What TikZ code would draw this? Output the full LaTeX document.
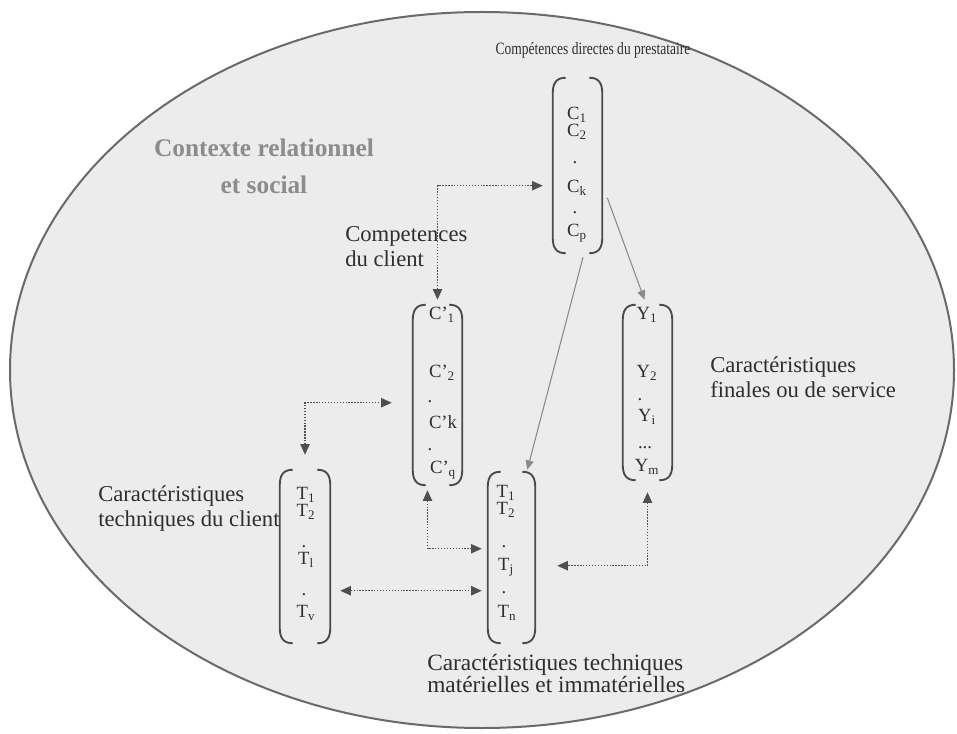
\documentclass[tikz,border=0pt]{standalone}
\usepackage{fontspec}
\usepackage{graphicx}
\setmainfont{Liberation Serif}
\usetikzlibrary{arrows.meta,calc,fit}
\definecolor{bgfill}{HTML}{ECECEC}
\definecolor{rim}{HTML}{6A6A6A}
\definecolor{txt}{HTML}{2E2E2E}
\definecolor{ctx}{HTML}{8C8C8C}
\definecolor{brkcol}{HTML}{4A4A4A}
\definecolor{conncol}{HTML}{4F4F4F}
\definecolor{linecol}{HTML}{8A8A8A}
\tikzset{
  lbl/.style={font=\fontsize{17}{18.75}\selectfont, text=txt, inner sep=0pt, align=left},
  ent/.style={font=\fontsize{14}{16}\selectfont, text=txt, inner sep=0pt},
  brk/.style={draw=brkcol, line width=1.4pt},
  mbox/.style={inner sep=0pt, draw=none},
  conn/.style={draw=conncol, line width=0.9pt, dash pattern=on 1pt off 1.2pt},
  tipboth/.style={{Triangle[length=8pt,width=7pt]}-{Triangle[length=8pt,width=7pt]}},
  tipend/.style={-{Triangle[length=7pt,width=6pt]}},
  thin/.style={draw=linecol, line width=0.8pt},
}
\newcommand\mybrackets[1]{%
  \draw[brk] ($(#1.north west)+(13,0)$) .. controls ($(#1.north west)+(3,0)$) and ($(#1.north west)+(0,6)$) .. ($(#1.north west)+(0,16)$)
    -- ($(#1.south west)+(0,-16)$) .. controls ($(#1.south west)+(0,-6)$) and ($(#1.south west)+(3,0)$) .. ($(#1.south west)+(13,0)$);
  \draw[brk] ($(#1.north east)+(-13,0)$) .. controls ($(#1.north east)+(-3,0)$) and ($(#1.north east)+(0,6)$) .. ($(#1.north east)+(0,16)$)
    -- ($(#1.south east)+(0,-16)$) .. controls ($(#1.south east)+(0,-6)$) and ($(#1.south east)+(-3,0)$) .. ($(#1.south east)+(-13,0)$);
}
\begin{document}
\begin{tikzpicture}[x=0.75pt,y=-0.75pt]
\useasboundingbox (0,0) rectangle (957,734);
\fill[white] (0,0) rectangle (957,734);
\draw[draw=rim, line width=1.5pt, fill=bgfill] (482,370) ellipse [x radius=472, y radius=358];

% matrices
\node[mbox, fit={(553,78) (602,253)}] (C) {};
\node[mbox, fit={(413,305) (462,485)}] (Cp) {};
\node[mbox, fit={(623,305) (672,480)}] (Y) {};
\node[mbox, fit={(280,470) (330,643)}] (Tc) {};
\node[mbox, fit={(488,472) (535,643)}] (T) {};
\mybrackets{C}
\mybrackets{Cp}
\mybrackets{Y}
\mybrackets{Tc}
\mybrackets{T}

% entries C
\node[ent] (c1) at (577,115) {C\textsubscript{1}};
\node[ent] (c2) at (577,132) {C\textsubscript{2}};
\node[ent] (c3) at (575,163) {.};
\node[ent] (c4) at (577,188) {C\textsubscript{k}};
\node[ent] (c5) at (575,213) {.};
\node[ent] (c6) at (577,233) {C\textsubscript{p}};
% entries C'
\node[ent] (d1) at (442,315) {C'\textsubscript{1}};
\node[ent] (d2) at (442,373) {C'\textsubscript{2}};
\node[ent] (d3) at (430,402) {.};
\node[ent] (d4) at (443,422) {C'k};
\node[ent] (d5) at (430,450) {.};
\node[ent] (d6) at (443,470) {C'\textsubscript{q}};
% entries Y
\node[ent] (y1) at (647,315) {Y\textsubscript{1}};
\node[ent] (y2) at (647,373) {Y\textsubscript{2}};
\node[ent] (y3) at (640,400) {.};
\node[ent] (y4) at (647,417) {Y\textsubscript{i}};
\node[ent] (y5) at (645,448) {...};
\node[ent] (y6) at (647,467) {Y\textsubscript{m}};
% entries Tc
\node[ent] (t1) at (306,495) {T\textsubscript{1}};
\node[ent] (t2) at (306,512) {T\textsubscript{2}};
\node[ent] (t3) at (304,547) {.};
\node[ent] (t4) at (306,560) {T\textsubscript{l}};
\node[ent] (t5) at (304,595) {.};
\node[ent] (t6) at (306,613) {T\textsubscript{v}};
% entries T
\node[ent] (u1) at (506,493) {T\textsubscript{1}};
\node[ent] (u2) at (506,510) {T\textsubscript{2}};
\node[ent] (u3) at (504,547) {.};
\node[ent] (u4) at (506,567) {T\textsubscript{j}};
\node[ent] (u5) at (504,593) {.};
\node[ent] (u6) at (507,613) {T\textsubscript{n}};

% labels
\node[lbl, align=center] (top) at (593,50) {\scalebox{0.78}[1]{\fontsize{13}{14}\selectfont Compétences directes du prestataire}};
\node[lbl, align=center, text=ctx, font=\fontsize{19}{27.75}\selectfont\bfseries] (ctxt) at (264,166) {Contexte relationnel\\et social};
\node[lbl, anchor=west] (lcl) at (345,247) {Competences\\du client};
\node[lbl, anchor=west] (lfin) at (710,377) {Caractéristiques\\finales ou de service};
\node[lbl, anchor=west] (ltc) at (98,509) {Caractéristiques\\techniques du client};
\node[lbl, anchor=west, font=\fontsize{17.5}{16.5}\selectfont] (ltm) at (427,673) {Caractéristiques techniques\\matérielles et immatérielles};

% connectors
\draw[conn, tipboth] ($(Cp.north)+(0,-5)$) |- ($(C.north west)+(-10,108)$);
\draw[conn, tipboth] ($(Tc.north)+(0,-15)$) |- ($(Cp.north west)+(-21,98)$);
\draw[conn, tipboth] ($(Cp.south)+(-10,5)$) |- ($(T.north west)+(-6,77)$);
\draw[conn, tipboth] ($(Tc.north east)+(10,121)$) -- ($(T.north west)+(-6,119)$);
\draw[conn, tipboth] ($(Y.south)+(0,12)$) |- ($(T.north east)+(22,94)$);
\draw[thin, tipend] ($(C.north east)+(5,120)$) -- ($(Y.north)+(-3,-5)$);
\draw[thin, tipend] ($(C.south)+(5.5,4)$) -- ($(T.north east)+(-8,-2)$);
\end{tikzpicture}
\end{document}
